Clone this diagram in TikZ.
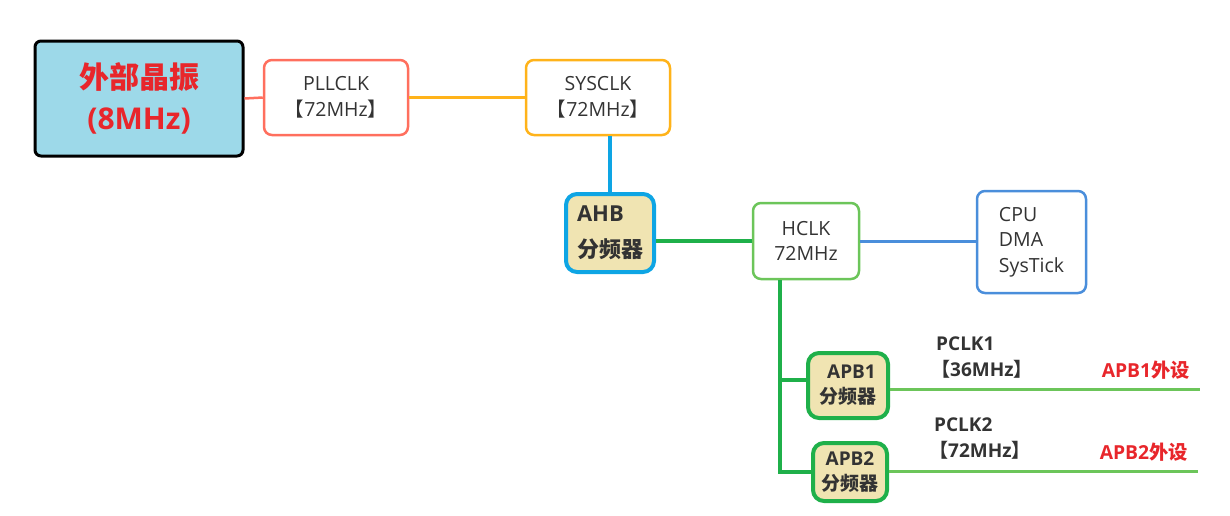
\documentclass[tikz,border=0pt]{standalone}
\usepackage{fontspec}
\setmainfont{Open Sans}
\newfontfamily\cjk{Noto Sans CJK SC}
\newcommand{\zh}[1]{{\cjk #1}}
\definecolor{xfill}{HTML}{9DD9E9}
\definecolor{redtxt}{HTML}{E8262B}
\definecolor{salmon}{HTML}{FF6F5E}
\definecolor{orng}{HTML}{FFB31A}
\definecolor{ahbblue}{HTML}{0EA5E4}
\definecolor{beige}{HTML}{F0E4B2}
\definecolor{dgreen}{HTML}{1FB04A}
\definecolor{lgreen}{HTML}{6CC55A}
\definecolor{cblue}{HTML}{4A8EDB}
\definecolor{txt}{HTML}{333333}
\tikzset{
  box/.style={draw, rectangle, rounded corners=8pt, inner sep=0pt, align=center, text=txt,
    font=\fontsize{19.5}{25.5}\selectfont},
  divbox/.style={box, fill=beige, line width=4pt, rounded corners=11pt,
    font=\fontsize{19}{25}\selectfont\bfseries},
  lbl/.style={inner sep=0pt, text=txt, font=\fontsize{19}{26}\selectfont\bfseries, align=left},
  rlbl/.style={inner sep=0pt, text=redtxt, font=\fontsize{19.3}{26}\selectfont\bfseries},
}
\begin{document}
\begin{tikzpicture}[x=1pt,y=-1pt]
\useasboundingbox (0,0) rectangle (1230,515);
% nodes
\node[box, draw=black, fill=xfill, line width=3pt, rounded corners=6pt,
  minimum width=208pt, minimum height=115pt, text=redtxt,
  font=\fontsize{30}{41}\selectfont\bfseries] (xtal) at (139,98.5) {\zh{外部晶振}\\(8MHz)};
\node[box, draw=salmon, line width=2.5pt, minimum width=144pt, minimum height=75pt] (pll) at (336,97.5) {PLLCLK\\\zh{【}72MHz\zh{】}};
\node[box, draw=orng, line width=2.5pt, minimum width=144pt, minimum height=75pt] (sys) at (598,97.5) {SYSCLK\\\zh{【}72MHz\zh{】}};
\node[divbox, draw=ahbblue, minimum width=88pt, minimum height=78pt, align=left,
  font=\fontsize{22}{36}\selectfont\bfseries] (ahb) at (610,233) {AHB\\\zh{分频器}};
\node[box, draw=lgreen, line width=2.5pt, minimum width=106pt, minimum height=76pt] (hclk) at (806,241) {HCLK\\72MHz};
\node[box, draw=cblue, line width=2.5pt, minimum width=109pt, minimum height=102pt, align=left] (cpu) at (1031.5,242) {CPU\\DMA\\SysTick};
\node[divbox, draw=dgreen, minimum width=80pt, minimum height=65pt] (apb1) at (848,385.5) {\hspace*{7pt}APB1\\\zh{分频器}};
\node[divbox, draw=dgreen, minimum width=74pt, minimum height=58pt] (apb2) at (850,472) {APB2\\\zh{分频器}};
% labels
\node[lbl, anchor=west] (p1) at (931,358) {\hspace*{5pt}PCLK1\\\zh{【}36MHz\zh{】}};
\node[lbl, anchor=west] (p2) at (929,439) {\hspace*{5pt}PCLK2\\\zh{【}72MHz\zh{】}};
\node[rlbl, anchor=east] (e1) at (1190,370) {APB1\zh{外设}};
\node[rlbl, anchor=east] (e2) at (1188,452) {APB2\zh{外设}};
% coordinates
\coordinate (vb) at (780,472);
\coordinate (b1) at (780,380);
\coordinate (o1) at (1200,389);
\coordinate (o2) at (1198,471);
% connectors
\draw[salmon, line width=2.5pt] (xtal.east) -- (pll.west);
\draw[orng, line width=2.5pt] (pll.east) -- (sys.west);
\draw[ahbblue, line width=4pt] (ahb.north) -- (ahb.north |- sys.south);
\draw[dgreen, line width=4pt] (ahb.east |- hclk.west) -- (hclk.west);
\draw[cblue, line width=3pt] (hclk.east) -- (hclk.east -| cpu.west);
\draw[dgreen, line width=4pt] (vb |- hclk.south) -- (vb) -- (apb2.west |- vb);
\draw[dgreen, line width=4pt] (b1) -- (apb1.west |- b1);
\draw[lgreen, line width=3pt] (apb1.east |- o1) -- (o1);
\draw[lgreen, line width=3pt] (apb2.east |- o2) -- (o2);
\end{tikzpicture}
\end{document}
